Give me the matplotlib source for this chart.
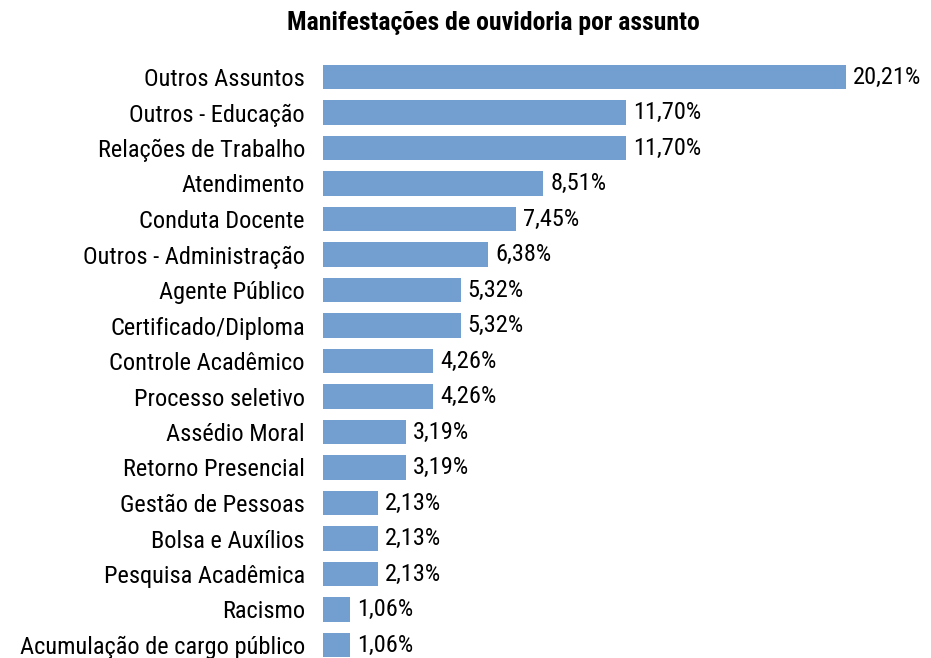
import matplotlib
matplotlib.use("Agg")
import matplotlib.pyplot as plt

categories = ["Outros Assuntos", "Outros - Educação", "Relações de Trabalho", "Atendimento",
              "Conduta Docente", "Outros - Administração", "Agente Público", "Certificado/Diploma",
              "Controle Acadêmico", "Processo seletivo", "Assédio Moral", "Retorno Presencial",
              "Gestão de Pessoas", "Bolsa e Auxílios", "Pesquisa Acadêmica", "Racismo",
              "Acumulação de cargo público"]
values = [20.21, 11.70, 11.70, 8.51, 7.45, 6.38, 5.32, 5.32, 4.26, 4.26, 3.19, 3.19,
          2.13, 2.13, 2.13, 1.06, 1.06]

plt.rcParams['font.family'] = ['Roboto Condensed', 'DejaVu Sans']

W, H = 931, 658
fig = plt.figure(figsize=(W / 100, H / 100), dpi=100)
left = 323 / W
top_px = 59.25
ax = fig.add_axes([left, 0, 1 - left, (H - top_px) / H])

pos = list(range(len(categories)))
ax.barh(pos, values, height=0.68, color="#729fcf")
ax.set_xlim(0, (W - 323) / 25.88)
ax.set_ylim((H - 77) / 35.5, -0.5)
ax.set_yticks(pos)
ax.set_yticklabels(categories, fontsize=17.6)
ax.tick_params(axis="y", length=0, pad=13)
ax.set_xticks([])
for s in ax.spines.values():
    s.set_visible(False)

for p, v in zip(pos, values):
    ax.annotate(f"{v:.2f}%".replace(".", ","), (v, p), xytext=(5, 0), textcoords="offset points",
                va="center", ha="left", fontsize=17.6)

fig.text(493 / W, 1 - 23 / H, "Manifestações de ouvidoria por assunto", ha="center", va="center",
         fontsize=18.5, fontweight="bold")

fig.savefig("out.png", dpi=100)
